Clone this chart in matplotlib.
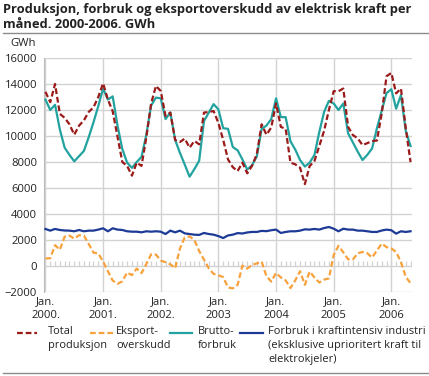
import numpy as np
import matplotlib
matplotlib.use('Agg')
import matplotlib.pyplot as plt
from matplotlib.lines import Line2D

plt.rcParams['font.family'] = ['Open Sans', 'DejaVu Sans']

# monthly values, Jan 2000 - May 2006 (GWh)
produksjon = [13400, 12600, 14000, 11700, 11400, 10900, 10100, 10800, 11200, 11850, 12200, 13000,
              14050, 12800, 11900, 9950, 8000, 7700, 6950, 7950, 7700, 9900, 12500, 13850,
              13460, 11540, 11800, 9690, 9540, 9800, 9100, 9620, 9360, 11800, 11850, 11920,
              11000, 9700, 8200, 7600, 7300, 7950, 7130, 7700, 8600, 10900, 10100, 10650,
              12500, 10700, 10550, 7950, 7820, 7560, 6300, 7690, 8080, 9230, 10400, 12000,
              13450, 13450, 13650, 10700, 10070, 9820, 9300, 9450, 9610, 9650, 11740, 14600,
              14850, 13280, 13650, 10600, 8000]
eksport = [580, 600, 1600, 1250, 2260, 2340, 2100, 2370, 2340, 1700, 1030, 960,
           350, -400, -1120, -1370, -1180, -500, -700, -200, -550, 150, 900, 880,
           420, 290, 130, -170, 1350, 2200, 2280, 2000, 1150, 490, -180, -600,
           -720, -850, -1650, -1720, -1450, 30, -200, 80, 200, 330, -780, -1200,
           -530, -880, -1100, -1700, -1100, -400, -1450, -430, -880, -1270, -1050, -950,
           850, 1550, 1050, 520, 500, 980, 1080, 980, 650, 1200, 1720, 1450,
           1350, 1080, 300, -830, -1330]
brutto = [12800, 12000, 12400, 10500, 9100, 8550, 8050, 8450, 8850, 9900, 11050, 12300,
          13650, 12800, 13050, 10800, 9000, 7950, 7550, 8000, 8400, 10100, 12350, 12950,
          12900, 11300, 11800, 9700, 8700, 7800, 6870, 7450, 8100, 11150, 11800, 12450,
          12050, 10600, 10550, 9150, 8900, 8200, 7420, 7750, 8430, 10550, 10800, 11300,
          12900, 11450, 11450, 9600, 8950, 8150, 7650, 7950, 8550, 10300, 11850, 12700,
          12500, 12000, 12500, 10200, 9500, 8800, 8150, 8550, 9050, 10600, 11950, 13300,
          13600, 12100, 13150, 10400, 9230]
industri = [2850, 2720, 2850, 2770, 2730, 2720, 2670, 2770, 2670, 2720, 2720, 2800,
            2900, 2670, 2900, 2800, 2770, 2670, 2640, 2640, 2590, 2670, 2640, 2670,
            2640, 2460, 2720, 2590, 2720, 2510, 2460, 2410, 2390, 2540, 2460, 2410,
            2300, 2150, 2350, 2410, 2530, 2500, 2580, 2620, 2620, 2700, 2680, 2750,
            2800, 2540, 2620, 2670, 2670, 2720, 2820, 2800, 2850, 2800, 2920, 3000,
            2870, 2670, 2870, 2800, 2800, 2720, 2720, 2670, 2620, 2620, 2730, 2800,
            2750, 2490, 2670, 2620, 2670]
year_labels = ['Jan.\n2000.', 'Jan.\n2001.', 'Jan.\n2002.', 'Jan.\n2003',
               'Jan.\n2004', 'Jan.\n2005', 'Jan.\n2006']

c_red = '#9b1a1a'
c_orange = '#f7a23c'
c_teal = '#22a39f'
c_blue = '#1c3a96'
c_grid = '#d2d2d2'
c_text = '#222222'
fs = 7.9

W, H = 429, 376
fig = plt.figure(figsize=(W / 100, H / 100), dpi=100)
ax = fig.add_axes([44 / W, 1 - 292 / H, (412 - 44) / W, (292 - 58) / H])

x = np.arange(len(produksjon))
ax.plot(x, produksjon, color=c_red, lw=1.6, dashes=(2.6, 1.3), zorder=4)
ax.plot(x, eksport, color=c_orange, lw=1.6, dashes=(2.6, 1.3), zorder=4)
ax.plot(x, brutto, color=c_teal, lw=1.6, zorder=3)
ax.plot(x, industri, color=c_blue, lw=1.6, zorder=3)

# monthly tick marks on the zero line
ax.vlines(x, 0, 380, color=c_grid, lw=0.9, zorder=1)

ax.set_xlim(-0.3, len(x) - 0.7)
ax.set_ylim(-2000, 16000)
ax.set_yticks(np.arange(-2000, 16001, 2000))
ax.set_xticks(np.arange(0, len(x), 12))
ax.set_xticklabels(year_labels, linespacing=1.35)
ax.grid(True, color=c_grid, lw=1.0, zorder=0)
for s in ['top', 'right', 'bottom']:
    ax.spines[s].set_visible(False)
ax.spines['left'].set_color('#bbbbbb')
ax.tick_params(axis='both', length=0, labelsize=fs + 0.2, colors=c_text)
ax.tick_params(axis='x', pad=3)
ax.tick_params(axis='y', pad=5)

# title and frame lines
fig.text(3 / W, 1 - 13.3 / H, 'Produksjon, forbruk og eksportoverskudd av elektrisk kraft per',
         fontsize=9.3, fontweight='bold', color=c_text, va='baseline')
fig.text(3 / W, 1 - 28.5 / H, 'måned. 2000-2006. GWh',
         fontsize=9.3, fontweight='bold', color=c_text, va='baseline')
fig.add_artist(Line2D([3 / W, 1], [1 - 33.3 / H] * 2, color='#8c8c8c', lw=1))
fig.add_artist(Line2D([3 / W, 428 / W], [1 - 372.7 / H] * 2, color='#8c8c8c', lw=1))
fig.text(10 / W, 1 - 43 / H, 'GWh', fontsize=fs + 0.2, color=c_text, va='center')

# legend
entries = [
    (17, 37, 48, c_red, True, 'Total\nproduksjon'),
    (90, 113, 116, c_orange, True, 'Eksport-\noverskudd'),
    (170, 192, 198, c_teal, False, 'Brutto-\nforbruk'),
    (240, 263, 268, c_blue, False, 'Forbruk i kraftintensiv industri\n(eksklusive uprioritert kraft til\nelektrokjeler)'),
]
for x0, x1, tx, col, dashed, label in entries:
    ln = Line2D([x0 / W, x1 / W], [1 - 333 / H] * 2, color=col, lw=1.6)
    if dashed:
        ln.set_dashes((2.6, 1.3))
    fig.add_artist(ln)
    fig.text(tx / W, 1 - 326 / H, label, fontsize=fs, color=c_text, va='top', linespacing=1.35)

fig.savefig('out.png', dpi=100)
